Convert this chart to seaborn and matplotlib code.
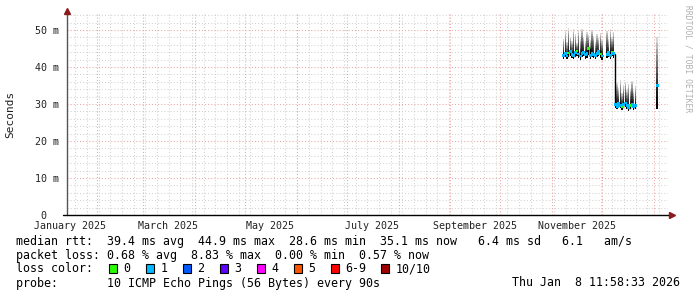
import numpy as np
import pandas as pd
import matplotlib
matplotlib.use("Agg")
import matplotlib.pyplot as plt
from matplotlib.patches import Rectangle
import seaborn as sns

# ---------------- data ----------------
dates = list(pd.date_range("2025-11-08", "2025-12-21", freq="D")) + [pd.Timestamp("2026-01-03")]
nan = np.nan
median_ms = [43.2, 43.6, 43.0, 43.8, 44.1, 43.4, 43.1, 43.9, 44.3, 43.5, 43.0, 43.7,
             44.0, 43.3, 43.6, 44.9, 43.2, 43.8, 43.4, 43.1, 43.7, 44.2, 43.5, 43.0,
             nan, nan,
             43.4, 43.9, 43.2, 44.0, 43.6,
             29.8, 29.4, 30.1, 29.6, 29.2, 29.9, 30.3, 29.5, 29.0, 29.7, 30.0, 29.3, 29.6,
             35.1]
max_ms = [47.5, 49.6, 46.8, 50.5, 48.2, 47.0, 50.2, 48.8, 46.5, 49.9, 47.6, 50.4,
          48.0, 46.9, 49.5, 48.6, 47.2, 50.1, 48.4, 46.7, 49.0, 47.8, 49.3, 47.4,
          nan, nan,
          49.8, 47.5, 50.2, 48.0, 49.4,
          33.5, 35.8, 34.2, 36.4, 33.0, 35.2, 36.0, 33.8, 35.5, 34.0, 36.2, 33.4, 34.8,
          48.0]
min_ms = [42.3, 42.6, 42.1, 42.7, 43.0, 42.4, 42.2, 42.8, 43.1, 42.5, 42.0, 42.6,
          42.9, 42.3, 42.5, 43.6, 42.2, 42.7, 42.4, 42.1, 42.6, 43.0, 42.5, 42.0,
          nan, nan,
          42.4, 42.8, 42.2, 42.9, 42.5,
          28.9, 28.6, 29.2, 28.8, 28.4, 29.0, 29.3, 28.7, 28.2, 28.8, 29.1, 28.5, 28.7,
          28.6]
loss = [1, 1, 1, 0, 1, 1, 1, 1, 0, 1, 1, 1, 1, 1, 1, 0, 1, 1, 1, 1, 1, 1, 0, 1,
        0, 0,
        1, 1, 1, 0, 1,
        1, 1, 1, 1, 0, 1, 1, 1, 1, 0, 1, 1, 1,
        1]
segment = [0] * 24 + [1] * 2 + [2] * 18 + [3]

y_ticks = [0, 10, 20, 30, 40, 50]
y_tick_labels = ["0  ", "10 m", "20 m", "30 m", "40 m", "50 m"]
month_label_dates = ["2025-01-16", "2025-03-16", "2025-05-16", "2025-07-16", "2025-09-16", "2025-11-16"]
month_labels = ["January 2025", "March 2025", "May 2025", "July 2025", "September 2025", "November 2025"]

loss_names = ["0", "1", "2", "3", "4", "5", "6-9", "10/10"]
loss_colors = ["#26ff00", "#00b8ff", "#0059ff", "#5e00ff", "#ff00ff", "#ff5500", "#ff0000", "#a10000"]

legend_lines = [
    "median rtt:  39.4 ms avg  44.9 ms max  28.6 ms min  35.1 ms now   6.4 ms sd   6.1   am/s",
    "packet loss: 0.68 % avg  8.83 % max  0.00 % min  0.57 % now",
]
probe_text = "probe:       10 ICMP Echo Pings (56 Bytes) every 90s"
stamp_text = "Thu Jan  8 11:58:33 2026"

df = pd.DataFrame({"date": dates, "median": median_ms, "max": max_ms, "min": min_ms,
                   "loss": loss, "seg": segment})

# ---------------- figure ----------------
sns.set_style("white")
plt.rcParams["font.family"] = ["DejaVu Sans Mono", "DejaVu Sans"]

W, H = 697, 297
fig = plt.figure(figsize=(W / 100, H / 100), dpi=100)
fig.patch.set_facecolor("white")
x0, x1, ytop, ybot = 67, 668, 13, 215
ax = fig.add_axes([x0 / W, 1 - ybot / H, (x1 - x0) / W, (ybot - ytop) / H])
ax.set_facecolor("white")

xstart = pd.Timestamp("2025-01-14 04:00")
xend = pd.Timestamp("2026-01-09 12:00")
ax.set_xlim(xstart, xend)
ax.set_ylim(0, 54.6)

# grid
minor_c = "#d2d2d2"
major_c = "#eda4a4"
dot = (0, (1, 2))
for d in pd.date_range(xstart, xend, freq="W-SUN"):
    ax.axvline(d, color=minor_c, lw=0.75, ls=dot, zorder=0)
for v in np.arange(2, 54.6, 2):
    if v % 10:
        ax.axhline(v, color=minor_c, lw=0.75, ls=dot, zorder=0)
for d in pd.date_range("2025-02-01", xend, freq="MS"):
    ax.axvline(d, color=major_c, lw=0.75, ls=dot, zorder=0.5)
for v in y_ticks[1:]:
    ax.axhline(v, color=major_c, lw=0.75, ls=dot, zorder=0.5)

# smoke (gradient of ping distribution)
valid = df.dropna(subset=["median"])
n_layers = 12
for k in range(n_layers):
    frac = 1 - k / n_layers
    shade = 0.84 * frac ** 1.6
    ax.bar(valid["date"], (valid["max"] - valid["min"]) * frac, bottom=valid["min"],
           width=0.8, color=(shade, shade, shade), linewidth=0, zorder=2)

# median line
sns.lineplot(data=valid, x="date", y="median", units="seg", estimator=None,
             color="black", lw=1.0, drawstyle="steps-mid", ax=ax, zorder=3)
valid_lbl = valid.assign(lossname=[loss_names[i] for i in valid["loss"]])
sns.scatterplot(data=valid_lbl, x="date", y="median", hue="lossname",
                palette=dict(zip(loss_names, loss_colors)), marker="s", s=4,
                linewidth=0, legend=False, ax=ax, zorder=4)

# axes styling
for s in ax.spines.values():
    s.set_visible(False)
ax.set_xlabel("")
ax.set_ylabel("Seconds", fontsize=8, color="#222222")
ax.yaxis.set_label_coords((15 - x0) / (x1 - x0), 0.5)
ax.set_yticks(y_ticks)
ax.set_yticklabels(y_tick_labels)
ax.set_xticks([pd.Timestamp(d) for d in month_label_dates])
ax.set_xticklabels(month_labels)
ax.tick_params(axis="both", length=0, labelsize=7.2, colors="#222222")
ax.tick_params(axis="y", pad=6)
ax.tick_params(axis="x", pad=4)

# axis lines with arrows
ax.plot([0, 0], [0, 1.0], transform=ax.transAxes, color="#555555", lw=1, clip_on=False, zorder=5)
ax.plot([-0.007, 1.004], [0, 0], transform=ax.transAxes, color="black", lw=1, clip_on=False, zorder=5)
ax.plot([0], [1.01], transform=ax.transAxes, marker="^", ms=4, color="#8b1a1a", clip_on=False, zorder=6)
ax.plot([1.006], [0], transform=ax.transAxes, marker=">", ms=4, color="#8b1a1a", clip_on=False, zorder=6)

# watermark
fig.text(688 / W, 1 - 5 / H, "RRDTOOL / TOBI OETIKER", rotation=-90, fontsize=5.8,
         color="#b0b0b0", ha="center", va="top")

# legend text
fs = 8.4
def ftxt(x, y, s, **kw):
    fig.text(x / W, 1 - y / H, s, fontsize=fs, va="center", color="black", **kw)

ftxt(16, 241, legend_lines[0])
ftxt(16, 255, legend_lines[1])
ftxt(16, 268.5, "loss color:")
box_x = [109, 146, 183, 220, 257, 294, 331, 381]
for bx, name, col in zip(box_x, loss_names, loss_colors):
    fig.patches.append(Rectangle((bx / W, 1 - 273 / H), 8 / W, 9 / H, transform=fig.transFigure,
                                 facecolor=col, edgecolor="black", lw=0.8))
    ftxt(bx + 14.5, 268.5, name)
ftxt(16, 283, probe_text)
ftxt(680, 283, stamp_text, ha="right")

fig.savefig("out.png", dpi=100, facecolor="white")
